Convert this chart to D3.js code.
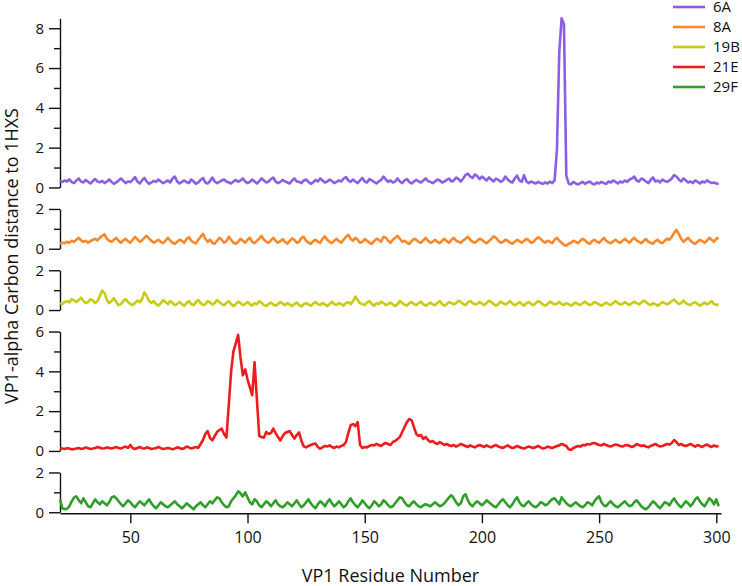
<!DOCTYPE html>
<html>
<head>
<meta charset="utf-8">
<script src="https://cdn.jsdelivr.net/npm/d3@7"></script>
<style>
  body { margin: 0; background: #fff; }
  text { font-family: "Open Sans", sans-serif; }
</style>
</head>
<body>
<div id="chart"></div>
<script>
// residue numbers run from firstResidue upward, one value per residue
const firstResidue = 20;
const seriesNames = ["6A", "8A", "19B", "21E", "29F"];
const seriesColors = ["#8a5fe3", "#f5892c", "#c8cc14", "#ee1c1c", "#2f9e2a"];
const xTicks = [50, 100, 150, 200, 250, 300];

const panelMax = [8.5, 2, 2, 6, 2];
const panelMajor = [[0, 2, 4, 6, 8], [0, 2], [0, 2], [0, 2, 4, 6], [0, 2]];
const panelMinor = [[1, 3, 5, 7], [1], [1], [1, 3, 5], [1]];

const s6A = [
  0.32,0.28,0.35,0.30,0.41,0.27,0.22,0.35,0.45,0.30,0.25,0.38,0.28,0.20,0.32,0.42,0.30,0.26,0.33,0.22,
  0.30,0.40,0.28,0.18,0.25,0.35,0.45,0.33,0.22,0.30,0.27,0.38,0.52,0.30,0.20,0.35,0.48,0.30,0.18,0.25,
  0.33,0.28,0.40,0.30,0.22,0.28,0.35,0.25,0.45,0.55,0.30,0.20,0.28,0.35,0.27,0.22,0.40,0.30,0.18,0.25,
  0.38,0.48,0.25,0.20,0.32,0.50,0.30,0.22,0.28,0.35,0.40,0.30,0.25,0.20,0.30,0.38,0.28,0.35,0.45,0.30,
  0.22,0.28,0.40,0.30,0.20,0.32,0.45,0.35,0.25,0.30,0.42,0.50,0.30,0.22,0.28,0.38,0.30,0.25,0.20,0.35,
  0.45,0.30,0.28,0.22,0.35,0.40,0.28,0.18,0.25,0.38,0.30,0.45,0.35,0.25,0.30,0.40,0.32,0.22,0.28,0.35,
  0.30,0.45,0.52,0.35,0.28,0.40,0.30,0.22,0.35,0.48,0.30,0.25,0.42,0.35,0.28,0.20,0.30,0.38,0.55,0.40,
  0.28,0.35,0.25,0.30,0.45,0.30,0.22,0.35,0.42,0.28,0.20,0.30,0.38,0.30,0.25,0.35,0.45,0.32,0.28,0.22,
  0.30,0.40,0.35,0.25,0.30,0.38,0.45,0.30,0.35,0.50,0.42,0.30,0.45,0.62,0.70,0.55,0.48,0.65,0.58,0.42,
  0.55,0.45,0.35,0.50,0.40,0.30,0.45,0.38,0.28,0.35,0.55,0.40,0.30,0.25,0.45,0.60,0.35,0.28,0.62,0.30,
  0.22,0.30,0.25,0.20,0.28,0.22,0.18,0.25,0.20,0.30,0.22,0.35,1.90,6.80,8.50,8.20,0.60,0.20,0.15,0.28,
  0.20,0.15,0.22,0.28,0.18,0.25,0.30,0.20,0.15,0.25,0.20,0.28,0.22,0.18,0.30,0.25,0.35,0.28,0.20,0.30,
  0.25,0.35,0.28,0.40,0.45,0.55,0.35,0.30,0.45,0.40,0.30,0.22,0.38,0.50,0.30,0.35,0.25,0.40,0.32,0.28,
  0.35,0.45,0.62,0.55,0.40,0.30,0.45,0.35,0.25,0.30,0.22,0.35,0.28,0.20,0.30,0.25,0.35,0.28,0.22,0.25,
  0.20,0.18
];
const s8A = [
  0.25,0.30,0.28,0.35,0.30,0.40,0.35,0.45,0.55,0.42,0.35,0.40,0.30,0.38,0.45,0.50,0.42,0.55,0.65,0.72,
  0.50,0.40,0.35,0.45,0.55,0.40,0.30,0.42,0.50,0.38,0.30,0.45,0.60,0.48,0.35,0.42,0.55,0.65,0.50,0.40,
  0.30,0.38,0.45,0.35,0.28,0.40,0.55,0.42,0.30,0.25,0.35,0.45,0.40,0.30,0.50,0.58,0.40,0.32,0.28,0.45,
  0.60,0.75,0.50,0.35,0.45,0.30,0.25,0.40,0.55,0.45,0.30,0.38,0.60,0.45,0.30,0.25,0.35,0.50,0.40,0.30,
  0.45,0.55,0.35,0.28,0.40,0.50,0.65,0.45,0.35,0.30,0.42,0.55,0.40,0.30,0.38,0.48,0.35,0.25,0.40,0.52,
  0.45,0.30,0.35,0.55,0.60,0.40,0.30,0.25,0.38,0.45,0.35,0.30,0.50,0.62,0.45,0.35,0.28,0.40,0.50,0.38,
  0.30,0.45,0.60,0.70,0.50,0.40,0.55,0.45,0.30,0.35,0.48,0.40,0.30,0.25,0.38,0.50,0.45,0.35,0.60,0.55,
  0.40,0.30,0.45,0.55,0.65,0.50,0.35,0.40,0.30,0.25,0.38,0.50,0.45,0.35,0.30,0.42,0.55,0.40,0.30,0.35,
  0.45,0.35,0.28,0.40,0.50,0.38,0.30,0.45,0.55,0.40,0.35,0.30,0.42,0.50,0.60,0.45,0.35,0.30,0.40,0.50,
  0.45,0.35,0.28,0.38,0.50,0.62,0.55,0.40,0.30,0.35,0.45,0.40,0.30,0.25,0.35,0.45,0.38,0.30,0.40,0.50,
  0.42,0.30,0.35,0.48,0.58,0.50,0.38,0.30,0.40,0.35,0.28,0.45,0.55,0.40,0.30,0.20,0.15,0.25,0.30,0.40,
  0.35,0.28,0.40,0.50,0.42,0.30,0.25,0.38,0.45,0.35,0.30,0.42,0.55,0.40,0.32,0.28,0.38,0.45,0.35,0.30,
  0.40,0.50,0.38,0.30,0.45,0.55,0.42,0.35,0.28,0.40,0.48,0.35,0.30,0.25,0.38,0.45,0.32,0.28,0.40,0.50,
  0.45,0.60,0.80,0.95,0.75,0.50,0.35,0.45,0.55,0.40,0.30,0.25,0.35,0.45,0.38,0.30,0.40,0.55,0.45,0.35,
  0.50,0.55
];
const s19B = [
  0.35,0.30,0.40,0.45,0.38,0.55,0.48,0.40,0.50,0.62,0.45,0.35,0.40,0.55,0.48,0.35,0.45,0.70,0.98,0.85,
  0.50,0.35,0.45,0.60,0.40,0.25,0.30,0.45,0.55,0.40,0.30,0.25,0.35,0.48,0.40,0.55,0.90,0.70,0.45,0.35,
  0.45,0.30,0.22,0.35,0.50,0.40,0.30,0.45,0.35,0.25,0.30,0.40,0.30,0.22,0.35,0.45,0.30,0.25,0.40,0.50,
  0.35,0.25,0.30,0.45,0.38,0.28,0.35,0.50,0.40,0.30,0.25,0.35,0.45,0.30,0.20,0.30,0.42,0.35,0.25,0.30,
  0.40,0.30,0.22,0.35,0.30,0.45,0.35,0.25,0.20,0.30,0.38,0.28,0.22,0.30,0.40,0.32,0.25,0.35,0.28,0.20,
  0.30,0.38,0.25,0.18,0.30,0.35,0.28,0.22,0.32,0.40,0.30,0.25,0.35,0.28,0.20,0.30,0.42,0.30,0.25,0.35,
  0.30,0.22,0.35,0.40,0.30,0.45,0.68,0.50,0.35,0.30,0.25,0.38,0.45,0.30,0.22,0.35,0.30,0.42,0.35,0.25,
  0.30,0.38,0.28,0.20,0.30,0.45,0.35,0.28,0.22,0.35,0.40,0.30,0.25,0.35,0.42,0.30,0.22,0.30,0.38,0.28,
  0.25,0.35,0.45,0.30,0.22,0.30,0.40,0.35,0.28,0.35,0.48,0.40,0.30,0.25,0.38,0.45,0.35,0.28,0.30,0.40,
  0.32,0.25,0.35,0.48,0.40,0.30,0.22,0.30,0.42,0.35,0.28,0.35,0.45,0.32,0.25,0.30,0.40,0.30,0.22,0.35,
  0.40,0.30,0.25,0.35,0.45,0.38,0.28,0.22,0.30,0.42,0.35,0.28,0.32,0.40,0.30,0.25,0.35,0.30,0.22,0.30,
  0.38,0.30,0.25,0.35,0.42,0.32,0.25,0.30,0.40,0.35,0.28,0.22,0.30,0.38,0.30,0.25,0.35,0.45,0.35,0.28,
  0.30,0.40,0.32,0.25,0.35,0.42,0.35,0.28,0.38,0.48,0.40,0.30,0.25,0.35,0.30,0.22,0.30,0.40,0.35,0.28,
  0.35,0.45,0.52,0.40,0.30,0.35,0.48,0.35,0.28,0.25,0.35,0.40,0.30,0.22,0.30,0.38,0.28,0.35,0.45,0.30,
  0.25,0.30
];
const s21E = [
  0.15,0.12,0.10,0.14,0.12,0.08,0.10,0.12,0.15,0.10,0.12,0.18,0.14,0.10,0.12,0.15,0.20,0.16,0.12,0.14,
  0.18,0.15,0.12,0.16,0.20,0.15,0.12,0.18,0.22,0.15,0.30,0.15,0.10,0.15,0.20,0.14,0.12,0.18,0.15,0.10,
  0.12,0.15,0.20,0.14,0.10,0.12,0.15,0.12,0.08,0.12,0.18,0.15,0.10,0.14,0.22,0.18,0.12,0.16,0.20,0.15,
  0.35,0.55,0.85,1.00,0.65,0.53,0.75,0.95,1.05,1.12,0.85,0.67,2.30,4.00,5.00,5.40,5.83,4.70,3.80,4.10,
  3.60,3.20,2.80,4.45,2.60,0.75,0.70,0.67,0.95,0.85,0.90,1.12,0.90,0.70,0.53,0.75,0.90,0.95,1.00,0.80,
  0.62,0.80,0.93,0.50,0.23,0.18,0.25,0.30,0.35,0.37,0.20,0.12,0.18,0.25,0.22,0.28,0.20,0.15,0.22,0.18,
  0.25,0.30,0.45,0.90,1.30,1.35,1.25,1.45,0.30,0.15,0.20,0.18,0.25,0.30,0.28,0.35,0.30,0.25,0.35,0.40,
  0.35,0.30,0.45,0.50,0.60,0.70,0.95,1.20,1.45,1.60,1.55,1.20,0.85,0.75,0.80,0.60,0.70,0.55,0.45,0.50,
  0.40,0.35,0.45,0.38,0.30,0.35,0.28,0.25,0.30,0.22,0.28,0.35,0.30,0.25,0.20,0.28,0.22,0.18,0.25,0.30,
  0.25,0.20,0.28,0.22,0.18,0.25,0.30,0.22,0.18,0.15,0.22,0.28,0.20,0.15,0.18,0.25,0.20,0.15,0.12,0.18,
  0.22,0.18,0.15,0.20,0.25,0.18,0.12,0.15,0.22,0.18,0.15,0.20,0.25,0.28,0.35,0.30,0.25,0.08,0.05,0.15,
  0.20,0.25,0.22,0.30,0.28,0.35,0.32,0.38,0.40,0.35,0.30,0.28,0.35,0.30,0.25,0.22,0.28,0.32,0.30,0.25,
  0.22,0.28,0.30,0.25,0.20,0.25,0.35,0.30,0.25,0.28,0.22,0.18,0.25,0.30,0.35,0.28,0.22,0.25,0.30,0.35,
  0.32,0.40,0.55,0.45,0.30,0.35,0.28,0.25,0.30,0.35,0.28,0.22,0.30,0.25,0.20,0.28,0.32,0.25,0.20,0.28,
  0.22,0.25
];
const s29F = [
  0.65,0.20,0.15,0.18,0.30,0.55,0.75,0.80,0.60,0.45,0.70,0.50,0.30,0.25,0.45,0.65,0.50,0.40,0.55,0.45,
  0.35,0.50,0.75,0.80,0.70,0.55,0.40,0.30,0.45,0.60,0.50,0.35,0.25,0.40,0.55,0.45,0.35,0.50,0.65,0.45,
  0.30,0.20,0.35,0.50,0.40,0.30,0.25,0.35,0.45,0.55,0.40,0.30,0.20,0.30,0.45,0.35,0.25,0.15,0.30,0.40,
  0.50,0.35,0.25,0.40,0.55,0.45,0.60,0.75,0.70,0.50,0.35,0.25,0.30,0.55,0.70,0.85,1.05,0.95,0.80,1.00,
  0.75,0.50,0.40,0.65,0.55,0.35,0.25,0.40,0.55,0.45,0.30,0.45,0.60,0.40,0.30,0.25,0.35,0.50,0.40,0.30,
  0.45,0.60,0.40,0.25,0.35,0.50,0.65,0.45,0.30,0.20,0.40,0.55,0.45,0.30,0.50,0.65,0.45,0.30,0.40,0.55,
  0.40,0.25,0.35,0.55,0.70,0.50,0.35,0.25,0.40,0.60,0.45,0.30,0.20,0.35,0.55,0.45,0.30,0.40,0.60,0.50,
  0.35,0.25,0.30,0.45,0.60,0.75,0.70,0.50,0.35,0.30,0.45,0.55,0.40,0.30,0.25,0.35,0.40,0.35,0.30,0.40,
  0.50,0.40,0.30,0.35,0.45,0.60,0.75,0.85,0.70,0.50,0.35,0.45,0.80,0.90,0.60,0.40,0.30,0.45,0.55,0.45,
  0.35,0.45,0.60,0.50,0.40,0.30,0.25,0.40,0.55,0.65,0.50,0.35,0.25,0.40,0.60,0.75,0.50,0.35,0.30,0.45,
  0.55,0.40,0.30,0.25,0.35,0.50,0.45,0.35,0.40,0.55,0.65,0.70,0.55,0.40,0.75,0.60,0.45,0.35,0.30,0.40,
  0.50,0.40,0.30,0.25,0.35,0.50,0.45,0.35,0.55,0.70,0.80,0.50,0.35,0.30,0.45,0.55,0.40,0.30,0.25,0.35,
  0.45,0.55,0.40,0.30,0.35,0.50,0.60,0.45,0.30,0.20,0.15,0.25,0.40,0.55,0.45,0.30,0.20,0.35,0.50,0.45,
  0.35,0.55,0.70,0.50,0.35,0.25,0.40,0.55,0.45,0.30,0.45,0.65,0.75,0.55,0.40,0.30,0.50,0.70,0.60,0.40,
  0.65,0.30
];
const allSeries = [s6A, s8A, s19B, s21E, s29F];

const width = 742, height = 586;
const plotLeft = 60, plotRight = 721;
const plotTop = 18.3;
const unit = 19.9;   // pixels per angstrom, shared by all panels
const gap = 21.5;    // space between stacked panels

const svg = d3.select("#chart")
  .append("svg")
  .attr("width", width)
  .attr("height", height);

const x = d3.scaleLinear().domain([20, 302]).range([plotLeft, plotRight]);

// stack the panels from the top
let cursor = plotTop;
const panels = panelMax.map((m, i) => {
  const top = cursor;
  const bottom = top + m * unit;
  cursor = bottom + gap;
  return {
    y: d3.scaleLinear().domain([0, m]).range([bottom, top]),
    bottom: bottom
  };
});

panels.forEach((p, i) => {
  const g = svg.append("g").attr("class", "panel");

  const major = g.append("g")
    .attr("transform", `translate(${plotLeft},0)`)
    .call(d3.axisLeft(p.y).tickValues(panelMajor[i]).tickSize(11).tickSizeOuter(0).tickPadding(5).tickFormat(d3.format("d")));
  major.select(".domain").attr("stroke", "#111").attr("stroke-width", 1.4);
  major.selectAll(".tick line").attr("stroke", "#111").attr("stroke-width", 1.4);
  major.selectAll(".tick text")
    .attr("fill", "#111")
    .style("font-size", "15px");

  const minor = g.append("g")
    .attr("transform", `translate(${plotLeft},0)`)
    .call(d3.axisLeft(p.y).tickValues(panelMinor[i]).tickSize(6).tickFormat(""));
  minor.select(".domain").remove();
  minor.selectAll(".tick line").attr("stroke", "#111").attr("stroke-width", 1.4);

  const line = d3.line()
    .x((d, k) => x(firstResidue + k))
    .y(d => p.y(d));

  g.append("path")
    .datum(allSeries[i])
    .attr("fill", "none")
    .attr("stroke", seriesColors[i])
    .attr("stroke-width", 2.6)
    .attr("stroke-linejoin", "round")
    .attr("d", line);
});

// shared residue axis under the last panel
const last = panels[panels.length - 1];
const xAxis = svg.append("g")
  .attr("transform", `translate(0,${last.bottom + 1})`)
  .call(d3.axisBottom(x).tickValues(xTicks).tickSize(10).tickSizeOuter(0).tickPadding(8));
xAxis.select(".domain").attr("stroke", "#111").attr("stroke-width", 1.4);
xAxis.selectAll(".tick line").attr("stroke", "#111").attr("stroke-width", 1.4);
xAxis.selectAll(".tick text").attr("fill", "#111").style("font-size", "16px");

svg.append("text")
  .attr("x", (plotLeft + plotRight) / 2)
  .attr("y", 582)
  .attr("text-anchor", "middle")
  .attr("fill", "#111")
  .style("font-size", "18px")
  .text("VP1 Residue Number");

svg.append("text")
  .attr("transform", "translate(18,256) rotate(-90)")
  .attr("text-anchor", "middle")
  .attr("fill", "#111")
  .style("font-size", "18px")
  .text("VP1-alpha Carbon distance to 1HXS");

// legend
const legend = svg.append("g").attr("transform", "translate(673,7)");
seriesNames.forEach((name, i) => {
  const row = legend.append("g").attr("transform", `translate(0,${i * 20})`);
  row.append("line")
    .attr("x1", 0).attr("x2", 32)
    .attr("stroke", seriesColors[i])
    .attr("stroke-width", 2.6);
  row.append("text")
    .attr("x", 40)
    .attr("dy", "0.36em")
    .attr("fill", "#111")
    .style("font-size", "15px")
    .text(name);
});
</script>
</body>
</html>
